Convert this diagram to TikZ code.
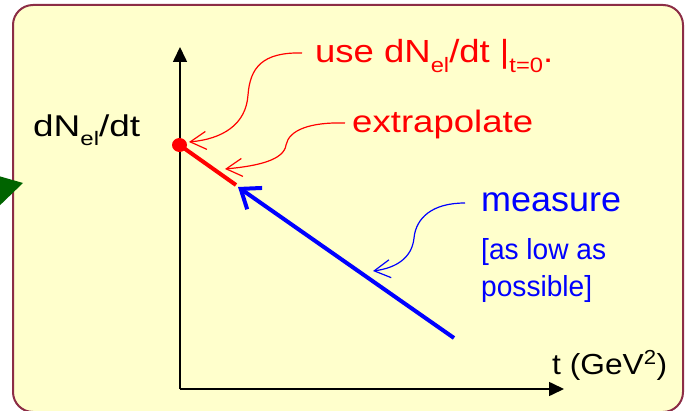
\documentclass[tikz,border=0pt]{standalone}
\usepackage{fontspec}
\setmainfont{Liberation Sans}
\usepackage{graphicx}
\usetikzlibrary{arrows.meta}
\definecolor{boxfill}{RGB}{255,255,204}
\definecolor{boxline}{RGB}{140,45,70}
\definecolor{dgreen}{RGB}{0,100,0}
\newcommand\sbs[1]{\raisebox{-0.3em}{\scalebox{0.65}{#1}}}
\newcommand\fitw[2]{\resizebox{#1}{\height}{#2}}
\tikzset{
  lbl/.style={inner sep=0pt, anchor=base west},
  thinarr/.style={line width=1.2pt, -{Straight Barb[length=16pt,width=18pt]}},
  axis/.style={line width=1.6pt, -{Triangle[length=15pt,width=14pt]}},
}
\begin{document}
\begin{tikzpicture}[x=1pt,y=-1pt]
\useasboundingbox (0,0) rectangle (685,411);
% frame
\draw[boxline, fill=boxfill, line width=2pt, rounded corners=20pt] (13,5) rectangle (683,412);
\fill[dgreen] (-5,175) -- (23,183) -- (-5,210) -- cycle;
% axes
\coordinate (O) at (180,389);
\coordinate (ytop) at (180,47);
\coordinate (xend) at (564,389);
\draw[axis] (O) -- (ytop);
\draw[axis] (O) -- (xend);
% data
\coordinate (dot) at (179.5,145);
\coordinate (rend) at (236,185);
\coordinate (mtip) at (238,187);
\coordinate (mend) at (454,338);
\draw[red, line width=4pt] (dot) -- (rend);
\fill[red] (dot) ellipse [x radius=7.5pt, y radius=7pt];
\draw[blue, line width=4pt, -{Straight Barb[length=17pt,width=26pt]}] (mend) -- (mtip);
% labels
\node[lbl] (ylab) at (33,136.5) {\fontsize{30}{33}\selectfont\fitw{107pt}{dN\sbs{el}/dt}};
\node[lbl, red] (use) at (315,63) {\fontsize{32}{36}\selectfont\fitw{238pt}{use dN\sbs{el}/dt |\sbs{t=0}.}};
\node[lbl, red] (extra) at (352,133) {\fontsize{31}{34}\selectfont\fitw{181pt}{extrapolate}};
\node[lbl, blue] (meas) at (481,212) {\fontsize{35}{38}\selectfont\fitw{140pt}{measure}};
\node[lbl, blue] (low) at (481,260) {\fontsize{29}{32}\selectfont\fitw{125pt}{[as low as}};
\node[lbl, blue] (poss) at (481,297) {\fontsize{29}{32}\selectfont\fitw{111pt}{possible]}};
\node[lbl] (tlab) at (552,374) {\fontsize{29}{31}\selectfont\fitw{115pt}{t (GeV\textsuperscript{2})}};
% pointer curves
\coordinate (u0) at (302,53);
\coordinate (u1) at (189,142);
\coordinate (e0) at (345,123);
\coordinate (e1) at (225,169);
\coordinate (m0) at (465,203);
\coordinate (m1) at (373,271);
\draw[red, thinarr] (u0) .. controls (262,52) and (250,68) .. (248,95) .. controls (246,125) and (222,139) .. (u1);
\draw[red, thinarr] (e0) .. controls (310,122) and (289,130) .. (286,145) .. controls (284,160) and (258,166) .. (e1);
\draw[blue, thinarr] (m0) .. controls (432,203) and (416,218) .. (414,238) .. controls (412,258) and (396,268) .. (m1);
\end{tikzpicture}
\end{document}
